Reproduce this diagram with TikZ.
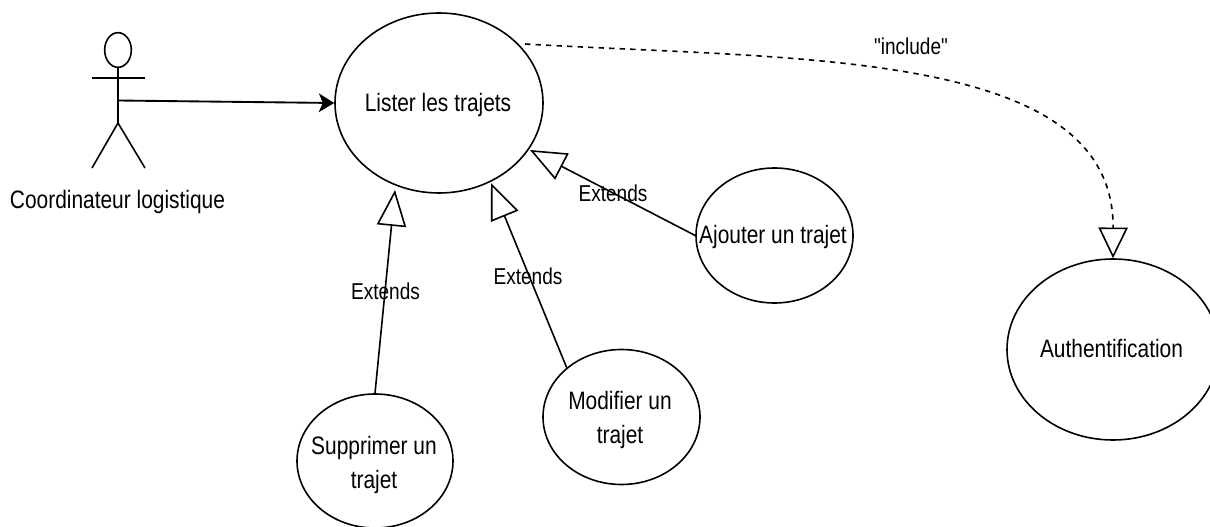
\documentclass[tikz,border=0pt]{standalone}
\usepackage{fontspec}
\setmainfont{Liberation Sans}[FakeStretch=0.83,Ligatures=TeXOff]
\usetikzlibrary{shapes.geometric,arrows.meta}
\tikzset{
  x=0.75pt,y=-0.75pt,
  every node/.style={font=\fontsize{18.9pt}{25.8pt}\selectfont},
  usecase/.style={draw=black,ellipse,line width=1.2pt,inner sep=0pt},
  label/.style={inner sep=0pt,align=center,anchor=base},
  edgelabel/.style={inner sep=0pt,anchor=base,font=\fontsize{17.2pt}{20pt}\selectfont},
  stick/.style={draw=black,line width=1.2pt},
  ext/.style={draw=black,line width=1.2pt,-{Triangle[open,length=27pt,width=22pt]}},
  incl/.style={draw=black,line width=1.2pt,dash pattern=on 4pt off 3.9pt,-{Triangle[open,length=23pt,width=22pt]}},
  assoc/.style={draw=black,line width=1.4pt,-{Stealth[length=11.5pt,width=14pt,inset=3pt]}}
}
\begin{document}
\begin{tikzpicture}
\useasboundingbox (0,0) rectangle (1210,527);
% use cases
\node[usecase,minimum width=156pt,minimum height=135pt] (lister) at (439,103) {};
\node[label] (listerT) at (438,112) {Lister les trajets};
\node[usecase,minimum width=117.75pt,minimum height=101.25pt] (ajouter) at (774.5,235.5) {};
\node[label] (ajouterT) at (773,243.5) {Ajouter un trajet};
\node[usecase,minimum width=117.75pt,minimum height=101.25pt] (modifier) at (621.5,417) {};
\node[label] (modifierT) at (620,443.5) {Modifier un\\trajet};
\node[usecase,minimum width=117pt,minimum height=100.5pt] (supprimer) at (375,461) {};
\node[label] (supprimerT) at (374,488.5) {Supprimer un\\trajet};
\node[usecase,minimum width=159pt,minimum height=135.75pt] (auth) at (1113,349.5) {};
\node[label] (authT) at (1111.5,358) {Authentification};
% actor
\node[usecase,minimum width=20pt,minimum height=26pt] (head) at (118,50) {};
\coordinate (hip) at (118,123);
\coordinate (armL) at (92,78);
\coordinate (armR) at (145,78);
\coordinate (footL) at (92,168);
\coordinate (footR) at (145,168);
\coordinate (hand) at (118,100.5);
\draw[stick] (head.south) -- (hip);
\draw[stick] (armL) -- (armR);
\draw[stick] (footL) -- (hip) -- (footR);
\node[label] (actorname) at (117.5,209) {Coordinateur logistique};
% connectors
\coordinate (tipS) at (395,190);
\coordinate (tipM) at (491,183);
\coordinate (tipA) at (530,150);
\coordinate (inclStart) at (525,44);
\draw[assoc] (hand) -- (lister.west);
\draw[ext] (supprimer.north) -- (tipS);
\draw[ext] (modifier.138.6) -- (tipM);
\draw[ext] (ajouter.west) -- (tipA);
\draw[incl] (inclStart) .. controls (800,60) and (1114,49) .. (auth.north);
% labels
\node[edgelabel] (ext1) at (385.5,299.5) {Extends};
\node[edgelabel] (ext2) at (528,284.5) {Extends};
\node[edgelabel] (ext3) at (613,201.5) {Extends};
\node[edgelabel] (inc) at (911,55) {"include"};
\end{tikzpicture}
\end{document}
